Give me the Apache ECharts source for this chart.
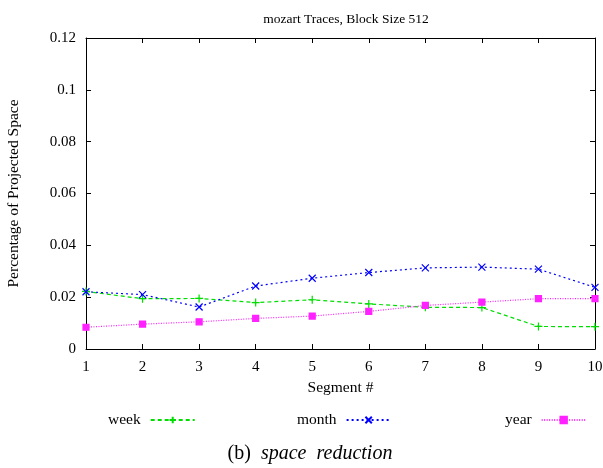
<!DOCTYPE html>
<html>
<head>
<meta charset="utf-8">
<script src="https://cdn.jsdelivr.net/npm/echarts@6.0.0/dist/echarts.min.js"></script>
<style>
  html, body { margin: 0; padding: 0; background: #fff; }
  #chart { width: 603px; height: 468px; }
</style>
</head>
<body>
<div id="chart"></div>
<script>
// 数据
const segments = [1, 2, 3, 4, 5, 6, 7, 8, 9, 10];
const weekVals = [0.0222, 0.0194, 0.0195, 0.0179, 0.0190, 0.0174, 0.0161, 0.0160, 0.0087, 0.0086];
const monthVals = [0.0221, 0.0210, 0.0162, 0.0243, 0.0273, 0.0295, 0.0313, 0.0316, 0.0308, 0.0238];
const yearVals = [0.0084, 0.0096, 0.0105, 0.0118, 0.0127, 0.0145, 0.0168, 0.0181, 0.0194, 0.0194];

const serif = '"Liberation Serif", "DejaVu Serif", serif';
const chart = echarts.init(document.getElementById('chart'));

function pairs(vals) {
    return segments.map((s, i) => [s, vals[i]]);
}

// 坐标轴公共样式
const boxLine = { show: true, onZero: false, lineStyle: { color: '#000', width: 1 } };
const tickIn = { show: true, inside: true, length: 5, lineStyle: { color: '#000' } };

function makeSeries(name, vals, color, dash, symbol, size) {
    return {
        name: name,
        type: 'line',
        data: pairs(vals),
        symbol: symbol,
        symbolSize: size,
        showSymbol: true,
        lineStyle: { color: color, width: 1.2, type: dash },
        itemStyle: { color: color, borderColor: color, borderWidth: 1.2 },
        emphasis: { disabled: true },
        animation: false
    };
}

function makeLegend(name, left) {
    return {
        data: [name],
        left: left,
        top: 407,
        align: 'right',
        itemWidth: 44,
        itemHeight: 8,
        itemGap: 0,
        textStyle: { fontFamily: serif, fontSize: 15.5, color: '#000', padding: [0, 5, 0, 0] }
    };
}

const option = {
    backgroundColor: '#fff',
    animation: false,
    title: [{
        text: 'mozart Traces, Block Size 512',
        left: 341,
        top: 7,
        textAlign: 'center',
        textStyle: { fontFamily: serif, fontSize: 13.5, fontWeight: 'normal', color: '#000' }
    }, {
        text: '(b)  {i|space  reduction}',
        left: 305,
        top: 439,
        textAlign: 'center',
        textStyle: {
            fontFamily: serif, fontSize: 20, fontWeight: 'normal', color: '#000',
            rich: { i: { fontFamily: serif, fontSize: 20, fontStyle: 'italic', color: '#000' } }
        }
    }],
    legend: [
        makeLegend('week', 103),
        makeLegend('month', 292),
        makeLegend('year', 500)
    ],
    grid: { left: 86, right: 8, top: 38, bottom: 119, containLabel: false, outerBoundsMode: 'none' },
    xAxis: [{
        type: 'value',
        min: 1, max: 10, interval: 1,
        name: 'Segment #',
        nameLocation: 'middle',
        nameGap: 31,
        nameTextStyle: { fontFamily: serif, fontSize: 15.5, color: '#000' },
        axisLine: boxLine,
        axisTick: tickIn,
        axisLabel: { fontFamily: serif, fontSize: 15, color: '#000', margin: 11 },
        splitLine: { show: false }
    }, {
        type: 'value',
        position: 'top',
        min: 1, max: 10, interval: 1,
        axisLine: boxLine,
        axisTick: tickIn,
        axisLabel: { show: false },
        splitLine: { show: false }
    }],
    yAxis: [{
        type: 'value',
        min: 0, max: 0.12, interval: 0.02,
        name: 'Percentage of Projected Space',
        nameLocation: 'middle',
        nameRotate: 90,
        nameGap: 64,
        nameTextStyle: { fontFamily: serif, fontSize: 15.5, color: '#000' },
        axisLine: boxLine,
        axisTick: tickIn,
        axisLabel: {
            fontFamily: serif, fontSize: 15, color: '#000', margin: 10,
            formatter: v => String(Math.round(v * 100) / 100)
        },
        splitLine: { show: false }
    }, {
        type: 'value',
        position: 'right',
        min: 0, max: 0.12, interval: 0.02,
        axisLine: boxLine,
        axisTick: tickIn,
        axisLabel: { show: false },
        splitLine: { show: false }
    }],
    series: [
        makeSeries('week', weekVals, '#00dd00', [4, 3], 'path://M0,5L10,5M5,0L5,10', 8),
        makeSeries('month', monthVals, '#0000ff', [2, 3], 'path://M0,0L10,10M10,0L0,10', 7),
        makeSeries('year', yearVals, '#ff22ff', [1, 1.5], 'path://M0,0L10,0L10,10L0,10ZM0,0L10,10M10,0L0,10', 6)
    ]
};

chart.setOption(option);
</script>
</body>
</html>
